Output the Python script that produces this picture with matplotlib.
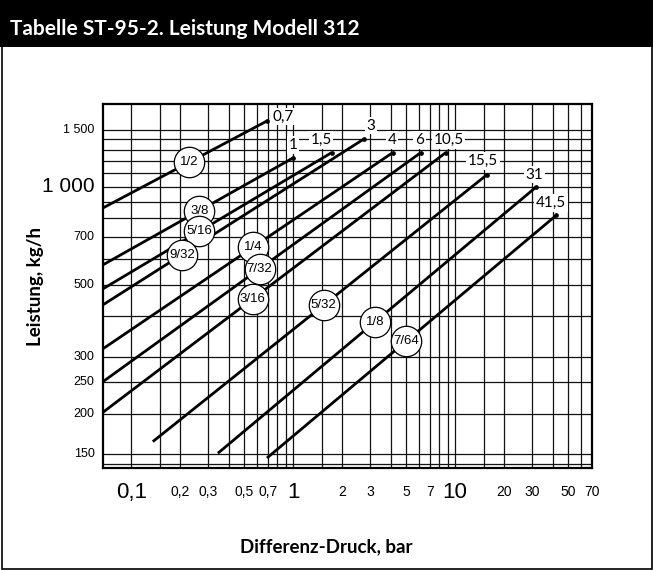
import matplotlib
matplotlib.use('Agg')
import matplotlib.pyplot as plt
import numpy as np
from matplotlib.patches import Rectangle
from matplotlib import font_manager

names = {f.name for f in font_manager.fontManager.ttflist}
narrow = 'Liberation Sans Narrow' if 'Liberation Sans Narrow' in names else 'Liberation Sans'

# orifice sizes and their straight lines (start / end points on log-log)
orifice = ['1/2', '3/8', '5/16', '9/32', '1/4', '7/32', '3/16', '5/32', '1/8', '7/64']
dp_start = [0.067, 0.067, 0.067, 0.067, 0.067, 0.067, 0.067, 0.136, 0.343, 0.689]
cap_start = [861, 575, 485, 433, 317, 251, 202, 164, 151, 146]
dp_end = [0.69, 1.0, 1.73, 2.74, 4.12, 6.14, 8.76, 15.7, 31.6, 42.0]
cap_end = [1596, 1228, 1275, 1405, 1275, 1275, 1275, 1089, 998, 816]
dp_max = ['0,7', '1', '1,5', '3', '4', '6', '10,5', '15,5', '31', '41,5']
circle_dp = [0.228, 0.264, 0.264, 0.206, 0.569, 0.62, 0.564, 1.54, 3.21, 4.99]

x_ticks = [0.1, 0.2, 0.3, 0.5, 0.7, 1, 2, 3, 5, 7, 10, 20, 30, 50, 70]
x_ticklabels = ['0,1', '0,2', '0,3', '0,5', '0,7', '1', '2', '3', '5', '7', '10', '20', '30', '50', '70']
x_grid = [0.1, 0.15, 0.2, 0.3, 0.4, 0.5, 0.6, 0.7, 0.8, 0.9, 1, 1.5, 2, 3, 4, 5, 6, 7, 8, 9,
          10, 15, 20, 30, 40, 50, 60]
y_ticks = [150, 200, 250, 300, 500, 700, 1000, 1500]
y_ticklabels = ['150', '200', '250', '300', '500', '700', '1 000', '1 500']
y_grid = [140, 150, 200, 250, 300, 400, 500, 600, 700, 800, 900, 1000, 1100, 1200, 1300, 1400, 1500]
big_labels = ['0,1', '1', '10', '1 000']

# offsets (points) of the max-pressure labels from line ends
end_offsets = [(11.7, 3.1), (0, 9.4), (-7.7, 9.1), (4.8, 9.6), (-0.7, 9.1), (-1, 9.1),
               (1.9, 9.1), (-2.9, 10), (-1.4, 8.9), (-3.8, 8.9)]

W, H = 653, 570
fig = plt.figure(figsize=(W / 100, H / 100), dpi=100)
fig.patch.set_facecolor('white')

# frame + title bar
fig.patches.append(Rectangle((1.5 / W, 1.5 / H), (W - 3) / W, (H - 3) / H, transform=fig.transFigure,
                             fill=False, ec='black', lw=1.2, zorder=0))
fig.patches.append(Rectangle((0, 1 - 47 / H), 1, 47 / H, transform=fig.transFigure,
                             fc='black', ec='none', zorder=1))
fig.text(10 / W, 1 - 29 / H, 'Tabelle ST-95-2. Leistung Modell 312', color='white',
         fontsize=15, fontweight='bold', family='Lato', va='center', ha='left')

left, right, top, bottom = 103, 592, 104, 468
ax = fig.add_axes([left / W, 1 - bottom / H, (right - left) / W, (bottom - top) / H])
ax.set_xscale('log')
ax.set_yscale('log')
ax.set_xlim(0.067, 70)
ax.set_ylim(136, 1800)
ax.set_xticks([])
ax.set_yticks([])
ax.minorticks_off()
for s in ax.spines.values():
    s.set_linewidth(1.6)

for g in x_grid:
    ax.axvline(g, color='#111111', lw=0.9, zorder=1)
for g in y_grid:
    ax.axhline(g, color='#111111', lw=0.9, zorder=1)

for i in range(len(orifice)):
    ax.plot([dp_start[i], dp_end[i]], [cap_start[i], cap_end[i]], color='black', lw=2.0,
            solid_capstyle='butt', zorder=3, clip_on=False)
    ax.plot([dp_end[i]], [cap_end[i]], 'o', color='black', ms=2.4, zorder=3)
    # circled orifice label on the line
    lx = np.log10([dp_start[i], dp_end[i]])
    ly = np.log10([cap_start[i], cap_end[i]])
    cy = 10 ** np.interp(np.log10(circle_dp[i]), lx, ly)
    ax.scatter([circle_dp[i]], [cy], s=480, facecolor='white', edgecolor='black', lw=0.9, zorder=4)
    ax.text(circle_dp[i], cy, orifice[i], ha='center', va='center', fontsize=9.5,
            family=narrow, zorder=5)
    ax.annotate(dp_max[i], (dp_end[i], cap_end[i]), xytext=end_offsets[i],
                textcoords='offset points', ha='center', va='center', fontsize=11,
                family='Lato', zorder=5,
                bbox=dict(fc='white', ec='none', pad=1.2))

# tick labels
for v, t in zip(x_ticks, x_ticklabels):
    ax.text(v, -0.066, t, transform=ax.get_xaxis_transform(), ha='center', va='center',
            fontsize=16 if t in big_labels else 10, family=narrow)
for v, t in zip(y_ticks, y_ticklabels):
    ax.text(-0.017, v, t, transform=ax.get_yaxis_transform(), ha='right', va='center',
            fontsize=15 if t in big_labels else 9, family=narrow)

fig.text(36 / W, 1 - 286 / H, 'Leistung, kg/h', rotation=90, ha='center', va='center',
         fontsize=13.5, fontweight='bold', family='Lato')
fig.text(0.5, 1 - 547 / H, 'Differenz-Druck, bar', ha='center', va='center',
         fontsize=13.5, fontweight='bold', family='Lato')

fig.savefig('out.png', dpi=100)
